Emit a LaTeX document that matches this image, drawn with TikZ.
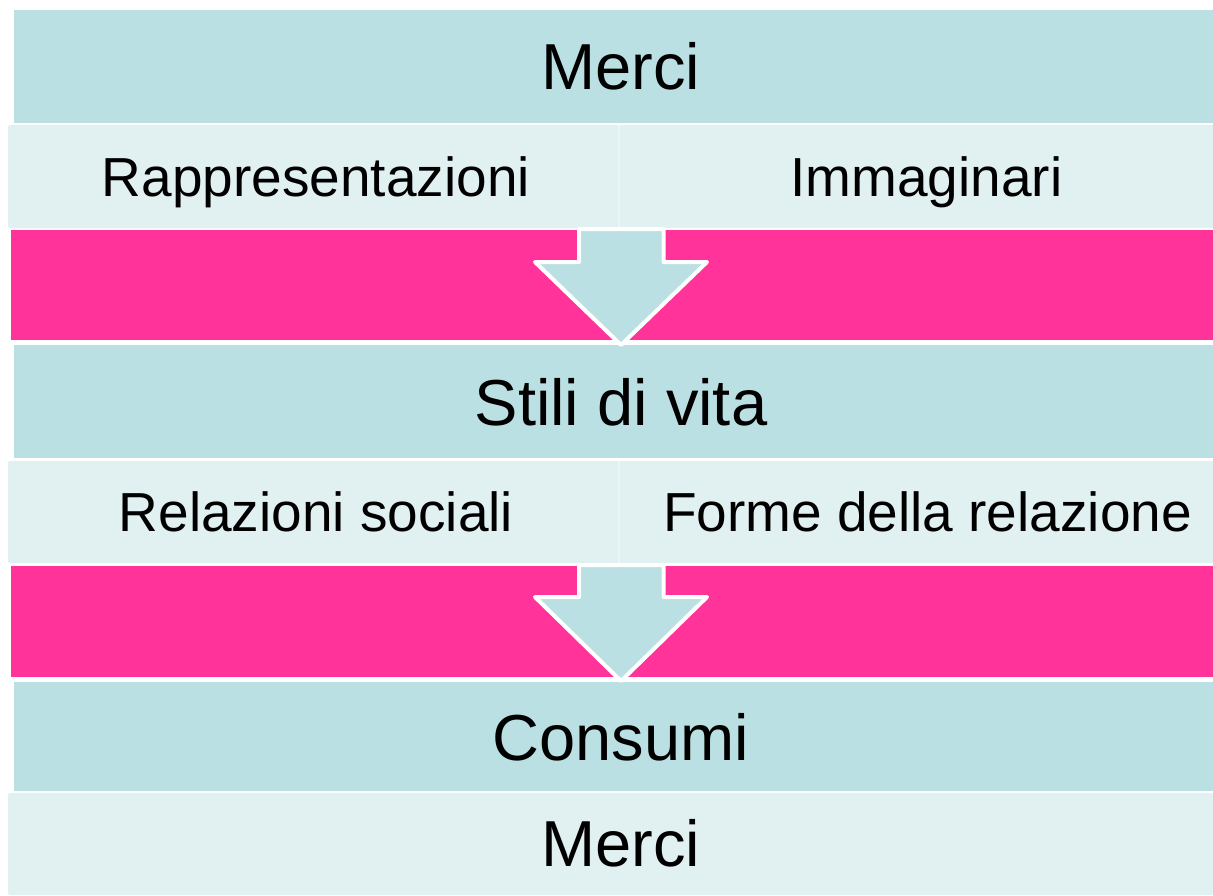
\documentclass[tikz,border=0pt]{standalone}
\usepackage{fontspec}
\setmainfont{Liberation Sans}
\usetikzlibrary{calc}
\definecolor{teal1}{RGB}{186,224,227}
\definecolor{teal2}{RGB}{225,240,241}
\definecolor{splitline}{RGB}{234,245,246}
\definecolor{pinkband}{RGB}{255,51,153}
\tikzset{
  band/.style={draw=none, inner sep=0pt, outer sep=0pt, anchor=north west},
  big/.style={font=\fontsize{65}{70}\selectfont, inner sep=0pt, anchor=base},
  small/.style={font=\fontsize{55}{60}\selectfont, inner sep=0pt, anchor=base},
  flowarrow/.style={fill=teal1, draw=white, line width=4pt, line join=round},
}
\begin{document}
\begin{tikzpicture}[x=1pt,y=-1pt]
\useasboundingbox (0,0) rectangle (1213,895);
% bands
\node[band, fill=teal1, minimum width=1199pt, minimum height=113pt] (merciA) at (14,10) {};
\node[band, fill=splitline, minimum width=1205pt, minimum height=103pt, rounded corners=2pt] (row1) at (8,125) {};
\node[band, fill=teal2, minimum width=610pt, minimum height=103pt, rounded corners=2pt] (rap) at (8,125) {};
\node[band, fill=teal2, minimum width=594pt, minimum height=103pt] (imm) at (619.5,125) {};
\node[band, fill=pinkband, minimum width=1202pt, minimum height=110pt] (pinkA) at (11,230) {};
\node[band, fill=teal1, minimum width=1199pt, minimum height=113pt] (stili) at (14,345) {};
\node[band, fill=splitline, minimum width=1205pt, minimum height=102pt, rounded corners=2pt] (row2) at (8,461) {};
\node[band, fill=teal2, minimum width=610pt, minimum height=102pt, rounded corners=2pt] (rel) at (8,461) {};
\node[band, fill=teal2, minimum width=594pt, minimum height=102pt] (forme) at (619.5,461) {};
\node[band, fill=pinkband, minimum width=1202pt, minimum height=111pt] (pinkB) at (11,566) {};
\node[band, fill=teal1, minimum width=1199pt, minimum height=109pt] (consumi) at (14,682) {};
\node[band, fill=teal2, minimum width=1205pt, minimum height=102pt, rounded corners=2pt] (merciB) at (8,793) {};
% arrows
\draw[flowarrow] (579,229) -- (579,262) -- (535,262) -- (621,345) -- (707,262) -- (663.5,262) -- (663.5,229) -- cycle;
\draw[flowarrow] (579,565) -- (579,597) -- (535,597) -- (621,681) -- (707,597) -- (663.5,597) -- (663.5,565) -- cycle;
% labels
\node[big] (tMerciA) at (621,89) {Merci};
\node[small] (tRap) at ($(rap.center)+(3,19.5)$) {Rappresentazioni};
\node[small] (tImm) at ($(imm.center)+(10,19.5)$) {Immaginari};
\node[big] (tStili) at (621,425) {Stili di vita};
\node[small] (tRel) at ($(rel.center)+(3,19.5)$) {Relazioni sociali};
\node[small] (tForme) at ($(forme.center)+(11,19.5)$) {Forme della relazione};
\node[big] (tCons) at (621,760) {Consumi};
\node[big] (tMerciB) at (621,866) {Merci};
\end{tikzpicture}
\end{document}
